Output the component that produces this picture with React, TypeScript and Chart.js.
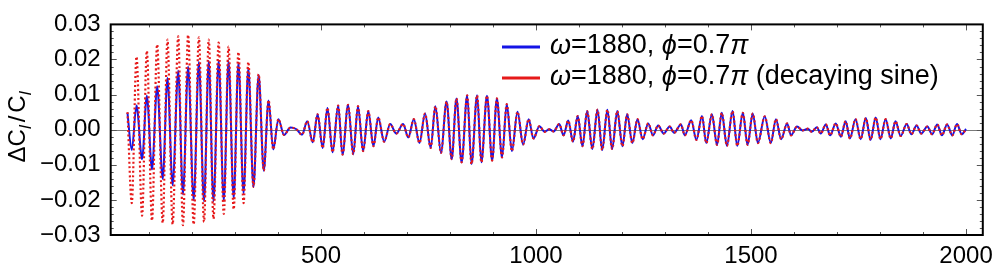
import React, { useEffect, useRef } from "react";
import { Chart, registerables } from "chart.js";

Chart.register(...registerables);

// Extremum positions (multipole l)
const ellPoints: number[] = [
  50, 60, 71, 84, 95, 107, 119, 132, 143, 155, 168, 179, 191, 204, 216, 228, 239, 250, 262, 274,
  285, 297, 308, 320, 331, 343, 355, 367, 378, 389, 401, 414, 429, 442, 456, 468, 481, 492, 504, 515,
  527, 540, 550, 563, 575, 586, 598, 610, 622, 633, 647, 661, 675, 691, 703, 716, 729, 742, 755, 766,
  779, 792, 804, 815, 827, 840, 850, 863, 873, 886, 898, 909, 921, 932, 944, 957, 970, 983, 994, 1008,
  1020, 1031, 1041, 1054, 1064, 1075, 1086, 1097, 1108, 1119, 1131, 1143, 1154, 1166, 1177, 1189, 1201, 1212, 1224, 1236,
  1248, 1261, 1272, 1284, 1297, 1311, 1321, 1337, 1346, 1361, 1373, 1386, 1396, 1409, 1421, 1432, 1444, 1457, 1468, 1481,
  1492, 1504, 1516, 1532, 1546, 1558, 1570, 1584, 1593, 1607, 1620, 1632, 1641, 1653, 1662, 1674, 1684, 1697, 1709, 1720,
  1730, 1743, 1755, 1767, 1778, 1790, 1801, 1813, 1825, 1836, 1848, 1862, 1873, 1885, 1896, 1910, 1921, 1933, 1944, 1956,
  1968, 1979, 1990, 2000,
];

// Blue series: omega=1880, phi=0.7pi
const blueValues: number[] = [
  0.0048, -0.0058, 0.0069, -0.0084, 0.0097, -0.0113, 0.0124, -0.014, 0.0147, -0.0158, 0.0168, -0.0184, 0.0179, -0.02, 0.0193, -0.0204, 0.0196, -0.0204, 0.0197, -0.0202,
  0.0196, -0.0195, 0.019, -0.0181, 0.0175, -0.0163, 0.0156, -0.0117, 0.0083, -0.0056, 0.003, -0.0015, 0.0006, 0.0002, -0.0014, 0.0024, -0.0036, 0.0044, -0.0052, 0.0062,
  -0.0064, 0.0069, -0.0071, 0.0071, -0.007, 0.0067, -0.0061, 0.0053, -0.0047, 0.0035, -0.0034, 0.0016, -0.0011, 0.0016, -0.0022, 0.003, -0.0038, 0.0046, -0.0052, 0.0067,
  -0.0066, 0.008, -0.0084, 0.0089, -0.0093, 0.0098, -0.0098, 0.0098, -0.0093, 0.0097, -0.0088, 0.0089, -0.0079, 0.0073, -0.0061, 0.0051, -0.0042, 0.003, -0.0025, 0.001,
  -0.0006, 0.0001, -0.0005, 0.0016, -0.0016, 0.0026, -0.0034, 0.0039, -0.0047, 0.0053, -0.0055, 0.0057, -0.0058, 0.0057, -0.0055, 0.0053, -0.0047, 0.0044, -0.0038, 0.003,
  -0.0027, 0.0018, -0.0016, 0.0012, -0.0011, 0.0009, -0.0009, 0.0015, -0.0016, 0.0027, -0.0029, 0.0039, -0.0038, 0.0044, -0.0043, 0.0048, -0.0046, 0.0053, -0.0046, 0.0048,
  -0.0043, 0.0046, -0.0038, 0.0038, -0.0038, 0.003, -0.0027, 0.0018, -0.0016, 0.0009, -0.0002, 0.0003, -0.0006, 0.0007, -0.0011, 0.0015, -0.0016, 0.0018, -0.002, 0.0024,
  -0.0025, 0.003, -0.0027, 0.0033, -0.0029, 0.0035, -0.0027, 0.003, -0.0025, 0.0024, -0.0018, 0.0016, -0.0013, 0.0012, -0.0011, 0.0009, -0.0013, 0.0015, -0.0016, 0.0015,
  -0.0016, 0.0016, -0.0013, 0.0002,
];

// Red series (decaying sine): differs from blue at low l, then overlaps it
const redEarlyValues: number[] = [
  0.005, -0.0209, 0.0208, -0.0245, 0.0225, -0.0259, 0.0243, -0.0266, 0.0257, -0.027, 0.0266, -0.0272, 0.027, -0.027, 0.0263, -0.0263, 0.0257, -0.0254, 0.0248, -0.024,
  0.0237, -0.0227, 0.0221, -0.0209, 0.0193, -0.0163, 0.0158, -0.0117, 0.0084,
];

const xTickValues: number[] = [500, 1000, 1500, 2000];
const yTickValues: number[] = [-0.03, -0.02, -0.01, 0, 0.01, 0.02, 0.03];
const seriesLabels: string[] = ["ω=1880, ϕ=0.7π", "ω=1880, ϕ=0.7π (decaying sine)"];

const FONT = "'Liberation Sans', Arial, Helvetica, sans-serif";
const BLUE = "#1414e6";
const RED = "#e61a1a";

function fmtY(v: number): string {
  const r = Math.round(v * 100) / 100;
  if (r === 0) return "0.00";
  return r < 0 ? "\u2212" + Math.abs(r).toFixed(2) : r.toFixed(2);
}

type Piece = { t: string; italic?: boolean; size: number; dy?: number; gap?: number };

function drawPieces(ctx: CanvasRenderingContext2D, pieces: Piece[], x: number, y: number) {
  let cx = x;
  for (const p of pieces) {
    ctx.font = `${p.italic ? "italic " : ""}${p.size}px ${FONT}`;
    cx += p.gap || 0;
    ctx.fillText(p.t, cx, y + (p.dy || 0));
    cx += ctx.measureText(p.t).width;
  }
  return cx - x;
}

function measurePieces(ctx: CanvasRenderingContext2D, pieces: Piece[]) {
  let w = 0;
  for (const p of pieces) {
    ctx.font = `${p.italic ? "italic " : ""}${p.size}px ${FONT}`;
    w += ctx.measureText(p.t).width + (p.gap || 0);
  }
  return w;
}

const decorPlugin = {
  id: "decor",
  beforeDatasetsDraw(chart: any) {
    const { ctx, chartArea, scales } = chart;
    const y0 = scales.y.getPixelForValue(0);
    ctx.save();
    ctx.strokeStyle = "#7a7a7a";
    ctx.lineWidth = 1;
    ctx.beginPath();
    ctx.moveTo(chartArea.left, Math.round(y0) + 0.5);
    ctx.lineTo(chartArea.right, Math.round(y0) + 0.5);
    ctx.stroke();
    ctx.restore();
  },
  afterDraw(chart: any) {
    const { ctx, chartArea, scales } = chart;
    const { left, right, top, bottom } = chartArea;
    ctx.save();
    // ticks
    ctx.strokeStyle = "#555";
    ctx.lineWidth = 1;
    ctx.beginPath();
    for (let v = 100; v <= 2000; v += 100) {
      const px = Math.round(scales.x.getPixelForValue(v)) + 0.5;
      const len = v % 500 === 0 ? 6 : 3;
      ctx.moveTo(px, bottom);
      ctx.lineTo(px, bottom - len);
      ctx.moveTo(px, top);
      ctx.lineTo(px, top + len);
    }
    for (let i = -15; i <= 15; i++) {
      const v = i * 0.002;
      const py = Math.round(scales.y.getPixelForValue(v)) + 0.5;
      const len = i % 5 === 0 ? 6 : 3;
      ctx.moveTo(left, py);
      ctx.lineTo(left + len, py);
      ctx.moveTo(right, py);
      ctx.lineTo(right - len, py);
    }
    ctx.stroke();
    // frame
    ctx.strokeStyle = "#000";
    ctx.lineWidth = 2;
    ctx.strokeRect(left, top, right - left, bottom - top);

    // legend
    const rows = [
      { color: BLUE, y: 47 },
      { color: RED, y: 78 },
    ];
    const fs = 27;
    const legendPieces: Piece[][] = [
      [
        { t: "ω", italic: true, size: fs },
        { t: "=1880, ", size: fs },
        { t: "ϕ", italic: true, size: fs },
        { t: "=0.7", size: fs },
        { t: "π", italic: true, size: fs },
      ],
      [
        { t: "ω", italic: true, size: fs },
        { t: "=1880, ", size: fs },
        { t: "ϕ", italic: true, size: fs },
        { t: "=0.7", size: fs },
        { t: "π", italic: true, size: fs },
        { t: " (decaying sine)", size: fs },
      ],
    ];
    rows.forEach((r, i) => {
      ctx.strokeStyle = r.color;
      ctx.lineWidth = 3;
      ctx.beginPath();
      ctx.moveTo(502, r.y);
      ctx.lineTo(540, r.y);
      ctx.stroke();
      ctx.fillStyle = "#000";
      ctx.textBaseline = "middle";
      ctx.textAlign = "left";
      drawPieces(ctx, legendPieces[i], 550, r.y - 1);
    });

    // y axis title
    const tp: Piece[] = [
      { t: "ΔC", size: 24 },
      { t: "l", italic: true, size: 17, dy: 6 },
      { t: "/", size: 24, gap: 3 },
      { t: "C", size: 24, gap: 3 },
      { t: "l", italic: true, size: 17, dy: 6 },
    ];
    ctx.translate(25, 127);
    ctx.rotate(-Math.PI / 2);
    ctx.textBaseline = "alphabetic";
    ctx.fillStyle = "#000";
    const w = measurePieces(ctx, tp);
    drawPieces(ctx, tp, -w / 2, 0);
    ctx.restore();
  },
};

export default function App() {
  const canvasRef = useRef<HTMLCanvasElement | null>(null);

  useEffect(() => {
    if (!canvasRef.current) return;
    const blueData = ellPoints.map((l, i) => ({ x: l, y: blueValues[i] }));
    const redData = ellPoints.map((l, i) => ({
      x: l,
      y: i < redEarlyValues.length ? redEarlyValues[i] : blueValues[i],
    }));
    const chart = new Chart(canvasRef.current, {
      type: "line",
      data: {
        datasets: [
          {
            label: seriesLabels[1],
            data: redData,
            borderColor: RED,
            borderWidth: 2.2,
            borderDash: [2, 2.5],
            pointRadius: 0,
            cubicInterpolationMode: "monotone",
            fill: false,
            order: 0,
          },
          {
            label: seriesLabels[0],
            data: blueData,
            borderColor: BLUE,
            borderWidth: 2,
            pointRadius: 0,
            cubicInterpolationMode: "monotone",
            fill: false,
            order: 1,
          },
        ],
      },
      options: {
        animation: false,
        responsive: false,
        devicePixelRatio: 1,
        layout: { padding: { top: 15.7, right: 14.3, left: 0, bottom: 0 } },
        plugins: { legend: { display: false }, tooltip: { enabled: false } },
        scales: {
          x: {
            type: "linear",
            min: 11,
            max: 2039,
            grid: { display: false, drawTicks: false },
            border: { display: false },
            ticks: {
              font: { size: 24, family: FONT },
              color: "#000",
              padding: 7,
              maxRotation: 0,
              autoSkip: false,
              callback: (v: any) => String(Math.round(Number(v))),
            },
            afterBuildTicks: (s: any) => {
              s.ticks = xTickValues.map((v) => ({ value: v }));
            },
            afterFit: (s: any) => {
              s.height = 37;
            },
          },
          y: {
            type: "linear",
            min: -0.03,
            max: 0.03,
            grid: { display: false, drawTicks: false },
            border: { display: false },
            ticks: {
              font: { size: 24, family: FONT },
              color: "#000",
              padding: 10,
              autoSkip: false,
              callback: (v: any) => fmtY(Number(v)),
            },
            afterBuildTicks: (s: any) => {
              s.ticks = yTickValues.map((v) => ({ value: v }));
            },
            afterFit: (s: any) => {
              s.width = 110.7;
            },
          },
        },
      },
      plugins: [decorPlugin],
    });
    return () => chart.destroy();
  }, []);

  return (
    <div style={{ position: "fixed", left: 0, top: 0, width: 1000, height: 272, background: "#fff" }}>
      <canvas ref={canvasRef} width={1000} height={272} style={{ width: 1000, height: 272 }} />
    </div>
  );
}
